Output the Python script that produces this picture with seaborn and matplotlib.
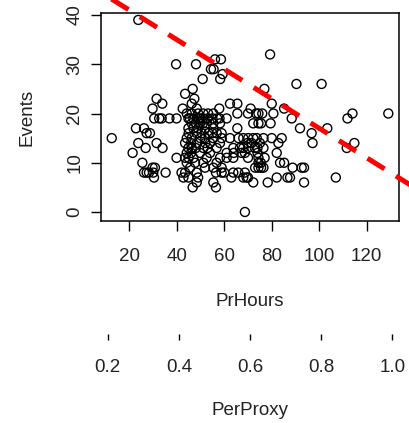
import matplotlib
matplotlib.use("Agg")
import numpy as np
import pandas as pd
import matplotlib.pyplot as plt
import seaborn as sns

# ---- data ----
pr_hours = [
    12.6, 23.8, 39.7, 48.1, 56.1, 58.6, 54.4, 55.5, 50.9, 58.3, 59.3, 79.3, 76.9, 90.4, 101.0,
    129.1, 111.9, 114.0, 114.8, 111.6, 107.0, 103.4, 96.8, 97.2, 91.9, 88.4, 85.2, 80.0, 80.7,
    84.2, 82.8, 82.1, 83.5, 85.2, 86.6, 87.7, 82.1, 88.8, 92.6, 93.6, 93.6, 78.3, 72.2, 68.7,
    46.7,
    43.5,
    31.5, 47.4,
    33.9, 46.3, 62.4, 65.5,
    29.8, 42.5, 48.4, 57.9, 71.1,
    44.2, 46.3, 49.0, 51.2, 53.2, 55.4, 65.5, 73.4, 74.4, 70.0, 76.0,
    30.5, 32.6, 33.6, 36.9, 39.9, 44.9, 47.0, 49.0, 51.0, 53.0, 55.0, 57.0, 58.0, 61.0, 45.5, 50.0,
    46.3, 49.8, 52.6, 55.4, 58.2, 72.2, 74.4, 79.5, 48.0, 51.0, 75.5,
    22.8, 26.2, 44.9, 49.0, 55.4, 65.5, 47.0, 52.0,
    27.3, 28.7, 48.4, 50.5, 53.4, 56.8, 58.9, 45.0, 55.0,
    44.2, 46.3, 55.4, 58.9, 62.4, 70.1, 72.2, 73.7, 76.5, 80.0, 50.0, 52.0, 66.0, 68.0,
    23.8, 31.5, 43.5, 48.4, 54.0, 58.2, 69.7, 71.5, 75.0, 46.0, 52.0,
    26.9, 34.0, 44.9, 46.3, 51.2, 56.8, 63.8, 66.6, 68.0, 72.9, 76.5, 48.0, 53.0, 70.0, 74.0,
    21.4, 44.2, 49.8, 54.0, 61.0, 67.3, 68.7, 74.0, 46.0, 64.0,
    39.9, 43.5, 47.0, 52.6, 58.2, 61.0, 63.8, 74.4, 45.0, 70.0, 77.0,
    25.5, 44.2, 47.7, 51.2, 56.8, 74.4, 75.4,
    29.8, 30.8, 45.6, 51.9, 55.4, 58.9, 74.4, 75.5, 76.5, 73.0,
    26.2, 27.3, 28.3, 30.1, 35.3, 42.0, 43.5, 48.4, 56.5, 58.9, 63.8, 65.9, 68.7, 60.0,
    30.4, 42.8, 44.9, 49.0, 63.0, 68.0, 69.4, 70.0,
    48.4, 55.4,
    46.7, 56.5,
]
events = [
    15, 39, 30, 30, 31, 31, 29, 29, 27, 27, 28, 32, 25, 26, 26,
    20, 19, 20, 14, 13, 7, 17, 16, 14, 17, 19, 21, 22, 20,
    15, 14, 12, 10, 10, 7, 7, 7, 9, 9, 9, 6, 6, 6, 0,
    25,
    24,
    23, 23,
    22, 22, 22, 22,
    21, 21, 21, 21, 21,
    20, 20, 20, 20, 20, 20, 20, 20, 20, 20, 20,
    19, 19, 19, 19, 19, 19, 19, 19, 19, 19, 19, 19, 19, 19, 19, 19,
    18, 18, 18, 18, 18, 18, 18, 18, 18, 18, 18,
    17, 17, 17, 17, 17, 17, 17, 17,
    16, 16, 16, 16, 16, 16, 16, 16, 16,
    15, 15, 15, 15, 15, 15, 15, 15, 15, 15, 15, 15, 15, 15,
    14, 14, 14, 14, 14, 14, 14, 14, 14, 14, 14,
    13, 13, 13, 13, 13, 13, 13, 13, 13, 13, 13, 13, 13, 13, 13,
    12, 12, 12, 12, 12, 12, 12, 12, 12, 12,
    11, 11, 11, 11, 11, 11, 11, 11, 11, 11, 11,
    10, 10, 10, 10, 10, 10, 10,
    9, 9, 9, 9, 9, 9, 9, 9, 9, 9,
    8, 8, 8, 8, 8, 8, 8, 8, 8, 8, 8, 8, 8, 8,
    7, 7, 7, 7, 7, 7, 7, 7,
    6, 6,
    5, 5,
]
line_intercept = 47.0
line_slope = -0.3
prhours_ticks = [20, 40, 60, 80, 100, 120]
events_ticks = [0, 10, 20, 30, 40]
perproxy_ticks = [0.2, 0.4, 0.6, 0.8, 1.0]
perproxy_labels = ["0.2", "0.4", "0.6", "0.8", "1.0"]

# ---- style ----
sns.set_style("white")
plt.rcParams["font.family"] = ["Liberation Sans", "DejaVu Sans"]
FS = 13.5
W, H = 410, 423
TXT = "#222222"

fig = plt.figure(figsize=(W / 100, H / 100), dpi=100)
L, R, T, B = 101, 399, 13, 221
ax = fig.add_axes([L / W, 1 - B / H, (R - L) / W, (B - T) / H])

df = pd.DataFrame({"PrHours": pr_hours, "Events": events})
sns.scatterplot(data=df, x="PrHours", y="Events", ax=ax, marker="o", s=42,
                facecolors="none", edgecolor="black", linewidth=1.0, zorder=3)

xs = np.array([-40.0, 160.0])
ax.plot(xs, line_intercept + line_slope * xs, color="red", lw=3.6,
        dashes=(4.0, 2.7), clip_on=False, zorder=5, solid_capstyle="butt")

ax.set_xlim(8.08, 133.6)
ax.set_ylim(-1.83, 40.41)
ax.set_xticks(prhours_ticks)
ax.set_yticks(events_ticks)
ax.set_xticklabels([str(t) for t in prhours_ticks])
ax.set_yticklabels([str(t) for t in events_ticks], rotation=90, va="center")
ax.tick_params(axis="x", bottom=True, direction="out", length=7.2, width=1.0,
               color="black", labelsize=FS, pad=12, labelcolor=TXT)
ax.tick_params(axis="y", left=True, direction="out", length=7.2, width=1.0,
               color="black", labelsize=FS, pad=5.5, labelcolor=TXT)
for s in ax.spines.values():
    s.set_color("black")
    s.set_linewidth(1.1)

ax.set_xlabel("PrHours", fontsize=FS, color=TXT)
ax.set_ylabel("Events", fontsize=FS, color=TXT)
ax.xaxis.set_label_coords(250 / W, 1 - 306 / H, transform=fig.transFigure)
ax.xaxis.label.set_va("baseline")
ax.yaxis.set_label_coords(31.7 / W, 1 - 117 / H, transform=fig.transFigure)
ax.yaxis.label.set_va("baseline")

# ---- second (PerProxy) axis below ----
ax2 = fig.add_axes([L / W, 1 - 334.3 / H, (R - L) / W, 0.0005])
ax2.set_xlim(0.1812, 1.0188)
ax2.set_ylim(0, 1)
ax2.set_xticks(perproxy_ticks)
ax2.set_xticklabels(perproxy_labels)
ax2.set_yticks([])
ax2.patch.set_visible(False)
for s in ax2.spines.values():
    s.set_visible(False)
ax2.tick_params(axis="x", bottom=True, direction="out", length=4.6, width=1.0,
                color="black", labelsize=FS, pad=13.4, labelcolor=TXT)
ax2.set_xlabel("PerProxy", fontsize=FS, color=TXT)
ax2.xaxis.set_label_coords(250 / W, 1 - 415 / H, transform=fig.transFigure)
ax2.xaxis.label.set_va("baseline")

fig.savefig("out.png", dpi=100)
